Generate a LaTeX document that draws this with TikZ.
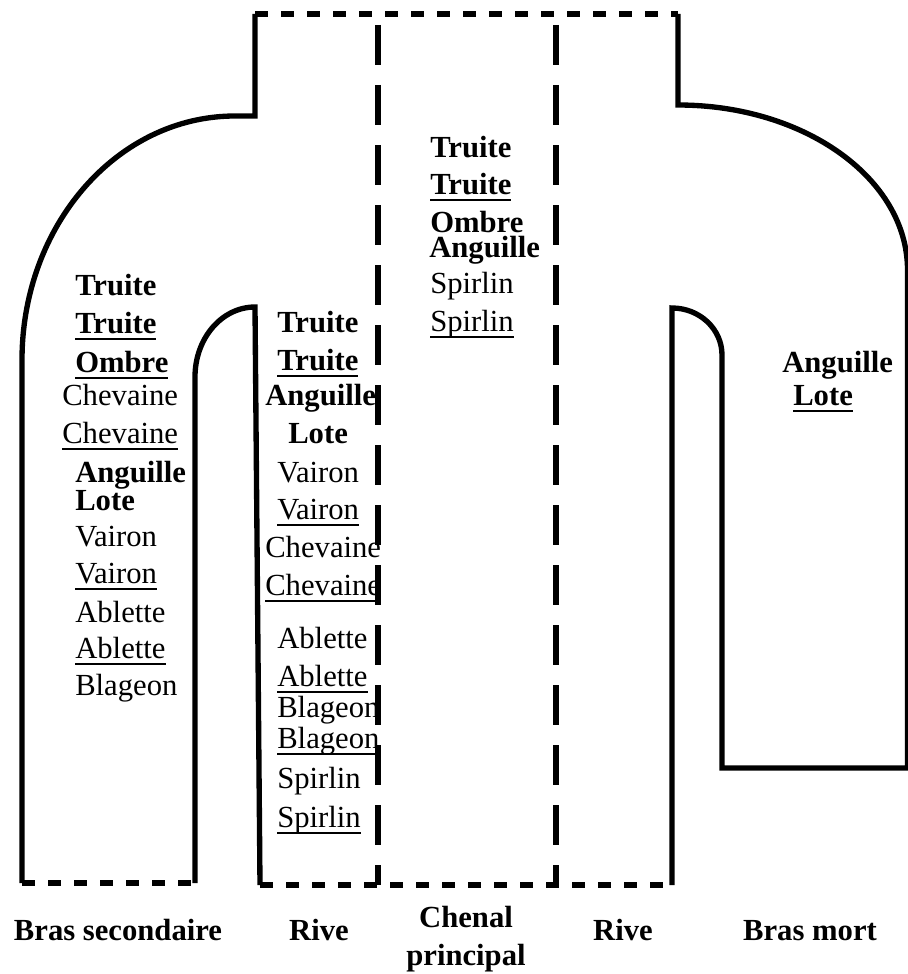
\documentclass[tikz,border=0pt]{standalone}
\usepackage{fontspec}
\setmainfont{Liberation Serif}
\newcommand{\fishfont}{\fontsize{23}{28.5}\selectfont}
% underline at a fixed depth below the baseline
\newcommand{\lign}[3]{\setbox0=\hbox{#3}\rlap{\vrule height -#1 depth \dimexpr#1+#2\relax width \wd0}\box0}
\newcommand{\ureg}[1]{\lign{4pt}{1.1pt}{#1}}
\newcommand{\ubf}[1]{\lign{3.6pt}{2pt}{\bfseries #1}}
\tikzset{
  bank/.style={line width=4pt, line join=miter},
  cut/.style={line width=4pt, dash pattern=on 9.75pt off 9.75pt},
  limit/.style={line width=4pt, dash pattern=on 30pt off 15pt},
  fish/.style={inner sep=0pt, anchor=base west, font=\fishfont},
  zone/.style={inner sep=0pt, anchor=base, font=\fishfont\bfseries, align=center}
}

\begin{document}
\begin{tikzpicture}[x=0.75pt, y=-0.75pt]
  \useasboundingbox (0,0) rectangle (907,974);

  % banks
  \draw[bank] (255,14) -- (255,116) -- (235,116)
    .. controls (117.4,116) and (22,225.2) .. (22,360) -- (22,883);
  \draw[bank] (195,883) -- (195,377)
    .. controls (195,338) and (222,307) .. (255,307) -- (260,885);
  \draw[bank] (678,14) -- (678,105)
    .. controls (804.8,105) and (907.5,178.9) .. (907.5,270)
    -- (907.5,768) -- (722,768) -- (722,355)
    .. controls (722,329) and (699.6,308) .. (672,308) -- (672,885);

  % open ends
  \draw[cut] (255,14) -- (678,14);
  \draw[cut] (22,883) -- (195,883);
  \draw[cut] (260,885) -- (672,885);

  % bras secondaire
  \node[fish] (bs1) at (75,295) {\textbf{Truite}};
  \node[fish] (bs2) at (75,333) {\ubf{Truite}};
  \node[fish] (bs3) at (75,372) {\ubf{Ombre}};
  \node[fish] (bs4) at (62,405) {Chevaine};
  \node[fish] (bs5) at (62,443) {\ureg{Chevaine}};
  \node[fish] (bs6) at (75,482) {\textbf{Anguille}};
  \node[fish] (bs7) at (75,510) {\textbf{Lote}};
  \node[fish] (bs8) at (75,546) {Vairon};
  \node[fish] (bs9) at (75,583) {\ureg{Vairon}};
  \node[fish] (bs10) at (75,622) {Ablette};
  \node[fish] (bs11) at (75,658) {\ureg{Ablette}};
  \node[fish] (bs12) at (75,695) {Blageon};

  % rive gauche
  \node[fish] (rg1) at (277,332) {\textbf{Truite}};
  \node[fish] (rg2) at (277,370) {\ubf{Truite}};
  \node[fish] (rg3) at (265,405) {\textbf{Anguille}};
  \node[fish] (rg4) at (288,443) {\textbf{Lote}};
  \node[fish] (rg5) at (277,482) {Vairon};
  \node[fish] (rg6) at (277,519) {\ureg{Vairon}};
  \node[fish] (rg7) at (265,557) {Chevaine};
  \node[fish] (rg8) at (265,595) {\ureg{Chevaine}};
  \node[fish] (rg9) at (277,648) {Ablette};
  \node[fish] (rg10) at (277,686) {\ureg{Ablette}};
  \node[fish] (rg11) at (277,717) {Blageon};
  \node[fish] (rg12) at (277,748) {\ureg{Blageon}};
  \node[fish] (rg13) at (277,788) {Spirlin};
  \node[fish] (rg14) at (277,827) {\ureg{Spirlin}};

  % chenal principal
  \node[fish] (ch1) at (430,157) {\textbf{Truite}};
  \node[fish] (ch2) at (430,194) {\ubf{Truite}};
  \node[fish] (ch3) at (430,232) {\textbf{Ombre}};
  \node[fish] (ch4) at (429,257) {\textbf{Anguille}};
  \node[fish] (ch5) at (430,293) {Spirlin};
  \node[fish] (ch6) at (430,331) {\ureg{Spirlin}};

  % bras mort
  \node[fish] (bm1) at (782,372) {\textbf{Anguille}};
  \node[fish] (bm2) at (793,405) {\ubf{Lote}};

  % limits of the channel
  \draw[limit] (378,25) -- (378,885);
  \draw[limit] (556,25) -- (556,885);

  % zone names
  \node[zone] (zbs) at (118,940) {Bras secondaire};
  \node[zone] (zrg) at (319,940) {Rive};
  \node[zone, anchor=center] (zch) at (466,939) {Chenal\\principal};
  \node[zone] (zrd) at (623,940) {Rive};
  \node[zone] (zbm) at (810,940) {Bras mort};
\end{tikzpicture}
\end{document}
